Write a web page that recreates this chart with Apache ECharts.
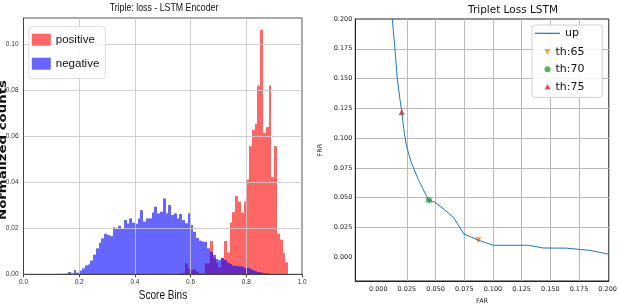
<!DOCTYPE html>
<html><head><meta charset="utf-8">
<script src="https://cdn.jsdelivr.net/npm/echarts@6/dist/echarts.min.js"></script>
<style>html,body{margin:0;padding:0;background:#fff}#c{width:618px;height:304px}</style>
</head><body><div id="c"></div>
<script>
// ---------- data ----------
const binWidth = 0.01; // histogram bins 0.00 .. 0.99
const positiveCounts = [
  0,0,0,0,0,0,0,0,0,0, 0,0,0,0,0,0,0,0,0,0,
  0,0,0,0,0,0,0,0,0,0, 0,0,0,0,0,0,0,0,0,0,
  0,0,0,0,0,0,0,0,0,0, 0,0,0,0,0,0,0.0003,0.0005,0.0048,0.0025,
  0.0018,0.0022,0.0012,0.0003,0.0003,0.0048,0.0048,0.0145,0.0070,0.0050,
  0.0030,0.0072,0.0145,0.0095,0.0225,0.0270,0.0340,0.0316,0.0268,0.0316,
  0.0412,0.0557,0.0628,0.0653,0.0820,0.1062,0.0615,0.0640,0.0821,0.0422,
  0.0557,0.0176,0.0150,0.0093,0.0052,0,0,0,0,0
];
const negativeCounts = [
  0,0,0,0,0,0,0,0,0,0, 0,0,0.0002,0.0002,0.0002,0.0003,0.0010,0.0004,0.0019,0.0007,
  0.0016,0.0026,0.0039,0.0043,0.0060,0.0085,0.0113,0.0137,0.0156,0.0176,
  0.0171,0.0166,0.0204,0.0197,0.0211,0.0197,0.0236,0.0221,0.0243,0.0224,
  0.0220,0.0243,0.0279,0.0229,0.0243,0.0243,0.0269,0.0294,0.0265,0.0272,
  0.0330,0.0265,0.0301,0.0258,0.0265,0.0243,0.0262,0.0236,0.0222,0.0265,
  0.0214,0.0185,0.0158,0.0146,0.0142,0.0142,0.0113,0.0098,0.0084,0.0066,
  0.0062,0.0070,0.0062,0.0050,0.0045,0.0038,0.0037,0.0035,0.0034,0.0027,
  0.0029,0.0025,0.0018,0.0013,0.0010,0.0008,0.0005,0.0004,0.0002,0.0001,
  0,0,0,0,0,0,0,0,0,0
];
const far = [0.0100,0.0122,0.0146,0.0166,0.0190,0.0205,0.0222,0.0241,0.0262,0.0290,0.0350,0.0425,0.0442,0.0494,0.0575,0.0654,0.0747,0.0872,0.1003,0.1308,0.1439,0.1640,0.1846,0.2011];
const frr = [0.218,0.200,0.175,0.150,0.132,0.122,0.108,0.096,0.088,0.079,0.065,0.0505,0.0478,0.0462,0.0400,0.0336,0.0195,0.0143,0.0100,0.0100,0.0077,0.0076,0.0057,0.0025];
const th65 = [0.0872, 0.0143];
const th70 = [0.0442, 0.0478];
const th75 = [0.0205, 0.122];
const farTicks = [0, 0.025, 0.05, 0.075, 0.1, 0.125, 0.15, 0.175, 0.2];
const frrTicks = [0, 0.025, 0.05, 0.075, 0.1, 0.125, 0.15, 0.175, 0.2];

// ---------- chart ----------
const LS = "'Liberation Sans',Arial,sans-serif";
const DJ = "'DejaVu Sans',sans-serif";

function histData(arr) { return arr.map((v, i) => [i * binWidth, v]); }
function histRenderer(fill) {
  return function (params, api) {
    const start = api.value(0), h = api.value(1);
    if (!h) return null;
    const tl = api.coord([start, h]);
    const br = api.coord([start + binWidth, 0]);
    const x0 = Math.round(tl[0]), x1 = Math.round(br[0]);
    return { type: 'rect', shape: { x: x0, y: tl[1], width: x1 - x0, height: br[1] - tl[1] }, style: { fill: fill } };
  };
}

const chart = echarts.init(document.getElementById('c'), null, { renderer: 'canvas' });
chart.setOption({
  animation: false,
  backgroundColor: '#fff',
  title: [
    { text: 'Triplet Loss LSTM', left: 513, top: 5, padding: 0, textAlign: 'center',
      textStyle: { fontFamily: DJ, fontSize: 10.5, fontWeight: 'normal', color: '#111' } }
  ],
  graphic: [
    { type: 'text', x: 164, y: 7.5, scaleX: 0.8, silent: true,
      style: { text: 'Triple: loss - LSTM Encoder', font: '11px ' + LS, fill: '#111', align: 'center', verticalAlign: 'middle' } },
    { type: 'text', x: 163, y: 296, scaleX: 0.8, silent: true,
      style: { text: 'Score Bins', font: '12.5px ' + LS, fill: '#111', align: 'center', verticalAlign: 'middle' } },
    { type: 'text', x: 3.5, y: 150, rotation: Math.PI / 2, scaleX: 1.33, silent: true,
      style: { text: 'Normalized counts', font: 'bold 10px ' + DJ, fill: '#111', align: 'center', verticalAlign: 'middle' } },
    { type: 'rect', z: 1, silent: true, shape: { x: 532, y: 25, width: 70.3, height: 72.3, r: 3 },
      style: { fill: 'rgba(255,255,255,0.85)', stroke: '#d0d0d0', lineWidth: 1 } }
  ],
  legend: [
    { orient: 'vertical', left: 28.8, top: 26.7, padding: [7, 6, 9, 3],
      itemWidth: 19, itemHeight: 12, itemGap: 12, itemTextGap: 6,
      backgroundColor: 'rgba(255,255,255,0.85)', borderColor: '#dcdcdc', borderWidth: 1, borderRadius: 3,
      textStyle: { fontFamily: LS, fontSize: 11.5, color: '#111' },
      data: [
        { name: 'positive', icon: 'rect', itemStyle: { color: '#ff6666' } },
        { name: 'negative', icon: 'rect', itemStyle: { color: '#6666ff' } }
      ] },
    { orient: 'vertical', left: 535, top: 27.8, padding: 0, z: 5,
      itemWidth: 25, itemHeight: 7, itemGap: 6.5, itemTextGap: 8,
      textStyle: { fontFamily: DJ, fontSize: 11, color: '#111' },
      data: [ { name: 'up', icon: 'path://M0,0L25,0L25,1.2L0,1.2Z', itemStyle: { color: '#1f77b4' } } ] },
    { orient: 'vertical', left: 544.5, top: 46.2, padding: 0, z: 5,
      itemWidth: 6, itemHeight: 6, itemGap: 6.5, itemTextGap: 17.5,
      textStyle: { fontFamily: DJ, fontSize: 11, color: '#111' },
      data: [
        { name: 'th:65', icon: 'path://M0,0L2,0L1,1.8Z', itemStyle: { color: '#ff7f0e' } },
        { name: 'th:70', icon: 'circle', itemStyle: { color: '#2ca02c' } },
        { name: 'th:75', icon: 'path://M0,1.8L2,1.8L1,0Z', itemStyle: { color: '#d62728' } }
      ] }
  ],
  grid: [
    { left: 23.5, top: 18, width: 278.5, height: 256.3, show: true, borderColor: '#555', borderWidth: 1,
      backgroundColor: 'transparent', containLabel: false, outerBoundsMode: 'none' },
    { left: 355.3, top: 19, width: 253.5, height: 262, show: true, borderColor: '#222', borderWidth: 1,
      backgroundColor: 'transparent', containLabel: false, outerBoundsMode: 'none' }
  ],
  xAxis: [
    { type: 'value', gridIndex: 0, min: 0, max: 1, interval: 0.2, z: 3,
      axisLine: { show: true, lineStyle: { color: '#444', width: 1 } },
      axisTick: { show: true, length: 3, lineStyle: { color: '#444' } },
      axisLabel: { fontFamily: LS, fontSize: 6.5, color: '#333', margin: 4, formatter: v => v.toFixed(1) },
      splitLine: { show: true, showMinLine: false, showMaxLine: false, lineStyle: { color: 'rgba(200,200,200,0.85)', width: 1 } } },
    { type: 'value', gridIndex: 1, min: -0.02, max: 0.201,
      axisLine: { show: true, onZero: false, lineStyle: { color: '#222', width: 1 } },
      axisTick: { show: false, customValues: farTicks },
      axisLabel: { customValues: farTicks, fontFamily: DJ, fontSize: 6.5, color: '#222', margin: 5, formatter: v => v.toFixed(3) },
      splitLine: { show: true, showMinLine: false, showMaxLine: false, lineStyle: { color: '#b8b8b8', width: 1 } },
      name: 'FAR', nameLocation: 'middle', nameGap: 16,
      nameTextStyle: { fontFamily: DJ, fontSize: 6.5, color: '#222' } }
  ],
  yAxis: [
    { type: 'value', gridIndex: 0, min: 0, max: 0.1114, interval: 0.02, z: 3,
      axisLine: { show: true, lineStyle: { color: '#444', width: 1 } },
      axisTick: { show: false },
      axisLabel: { fontFamily: LS, fontSize: 6.5, color: '#333', margin: 5, showMaxLabel: false, formatter: v => v.toFixed(2) },
      splitLine: { show: true, showMinLine: false, showMaxLine: false, lineStyle: { color: 'rgba(200,200,200,0.85)', width: 1 } } },
    { type: 'value', gridIndex: 1, min: -0.02, max: 0.2,
      axisLine: { show: true, onZero: false, lineStyle: { color: '#222', width: 1 } },
      axisTick: { show: false, customValues: frrTicks },
      axisLabel: { customValues: frrTicks, fontFamily: DJ, fontSize: 6.5, color: '#222', margin: 3, formatter: v => v.toFixed(3) },
      splitLine: { show: true, showMinLine: false, showMaxLine: false, lineStyle: { color: '#b8b8b8', width: 1 } },
      name: 'FRR', nameLocation: 'middle', nameGap: 31,
      nameTextStyle: { fontFamily: DJ, fontSize: 6.5, color: '#222' } }
  ],
  series: [
    { name: 'positive', type: 'custom', xAxisIndex: 0, yAxisIndex: 0, color: '#ff6666',
      data: histData(positiveCounts), renderItem: histRenderer('rgba(255,0,0,0.6)') },
    { name: 'negative', type: 'custom', xAxisIndex: 0, yAxisIndex: 0, color: '#6666ff',
      data: histData(negativeCounts), renderItem: histRenderer('rgba(0,0,255,0.6)') },
    { name: 'up', type: 'line', xAxisIndex: 1, yAxisIndex: 1, symbol: 'none', clip: true,
      color: '#1f77b4', lineStyle: { color: '#1f77b4', width: 1 },
      data: far.map((x, i) => [x, frr[i]]) },
    { name: 'th:65', type: 'scatter', xAxisIndex: 1, yAxisIndex: 1, symbol: 'triangle', symbolRotate: 180,
      symbolSize: 6, itemStyle: { color: '#ff7f0e' }, data: [th65] },
    { name: 'th:70', type: 'scatter', xAxisIndex: 1, yAxisIndex: 1, symbol: 'circle',
      symbolSize: 6, itemStyle: { color: '#2ca02c' }, data: [th70] },
    { name: 'th:75', type: 'scatter', xAxisIndex: 1, yAxisIndex: 1, symbol: 'triangle',
      symbolSize: 6, itemStyle: { color: '#d62728' }, data: [th75] }
  ]
});
</script>
</body></html>
